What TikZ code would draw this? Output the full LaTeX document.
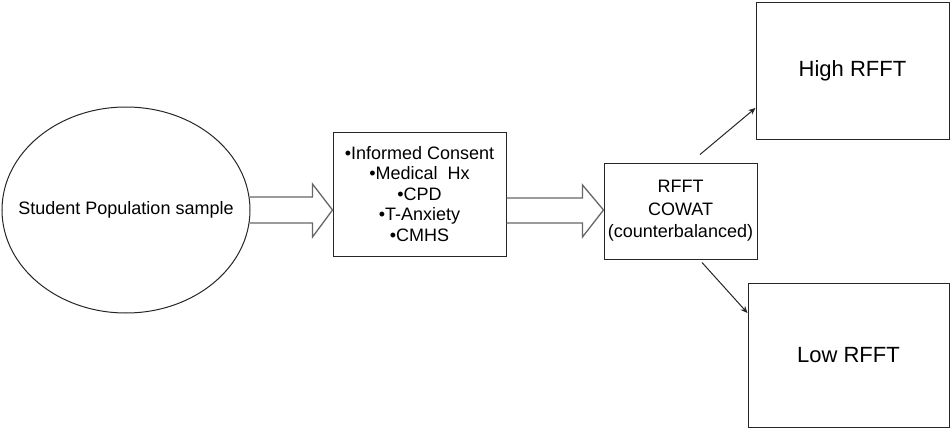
\documentclass[tikz,border=0pt]{standalone}
\usepackage{fontspec}
\setmainfont{Liberation Sans}
\usetikzlibrary{calc,arrows.meta,shapes.geometric}
\begin{document}
\begin{tikzpicture}[x=1pt,y=-1pt,
  outl/.style={draw=black!85,line width=1pt},
  boxnode/.style={outl,rectangle,inner sep=0pt,align=center,font=\fontsize{18}{20.5}\selectfont},
  bignode/.style={outl,rectangle,inner sep=0pt,align=center,font=\fontsize{22}{26}\selectfont},
  hollow/.style={draw=black!60,line width=1.3pt,line join=miter},
  conn/.style={draw=black!85,line width=1pt,-{Stealth[length=7pt,width=6pt]}}]
\useasboundingbox (0,0) rectangle (951,428);
\node[outl,ellipse,inner sep=0pt,minimum width=248pt,minimum height=206pt] (e) at (126,210) {};
\node[font=\fontsize{18}{22}\selectfont,inner sep=0pt] (et) at (e.center) {Student Population sample};
\node[boxnode,minimum width=173pt,minimum height=124pt] (b2) at (419.5,194) {•Informed Consent\\•Medical\ \ Hx\\•CPD\\•T-Anxiety\\•CMHS};
\node[boxnode,minimum width=153pt,minimum height=96pt,font=\fontsize{18}{22.5}\selectfont] (b3) at (680.5,211) {RFFT\\COWAT\\(counterbalanced)};
\node[bignode,minimum width=193pt,minimum height=136pt] (hi) at (852.5,71) {High RFFT};
\node[bignode,minimum width=201pt,minimum height=144pt] (lo) at (848.5,355) {Low RFFT};
% hollow arrow 1
\coordinate (a1s) at (e.east);
\coordinate (a1e) at (b2.west |- e.east);
\draw[hollow] ($(a1s)+(-1,-13)$) -- ($(a1e)+(-20,-13)$) -- ($(a1e)+(-20,-26)$) -- (a1e) -- ($(a1e)+(-20,27)$) -- ($(a1e)+(-20,13)$) -- ($(a1s)+(-1,13)$);
% hollow arrow 2
\coordinate (a2s) at (b2.east |- b3.west);
\coordinate (a2e) at (b3.west);
\draw[hollow] ($(a2s)+(0,-13)$) -- ($(a2e)+(-21,-13)$) -- ($(a2e)+(-21,-26)$) -- ($(a2e)+(0,-1)$) -- ($(a2e)+(-21,26)$) -- ($(a2e)+(-21,12)$) -- ($(a2s)+(0,12)$);
\draw[conn] ([shift={(19.5pt,8pt)}]b3.north) -- ([yshift=-37pt]hi.west);
\draw[conn] ([shift={(21.5pt,-3pt)}]b3.south) -- ([yshift=42pt]lo.west);
\end{tikzpicture}
\end{document}
